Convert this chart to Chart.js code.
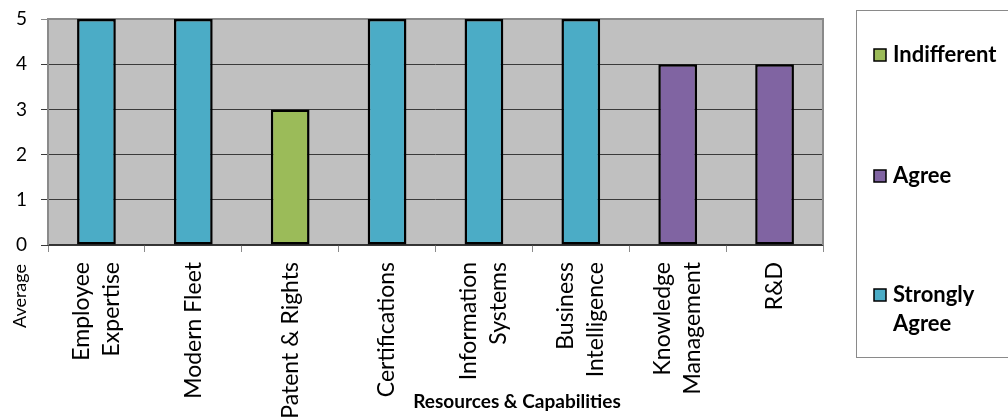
<!DOCTYPE html>
<html>
<head>
<meta charset="utf-8">
<script src="https://cdn.jsdelivr.net/npm/chart.js@4/dist/chart.umd.min.js"></script>
<style>
  html, body { margin: 0; padding: 0; background: #fff; }
  #wrap { width: 1008px; height: 417px; }
</style>
</head>
<body>
<div id="wrap"><canvas id="chart" width="1008" height="417"></canvas></div>
<script>
const categories = [
  ["Employee", "Expertise"],
  "Modern Fleet",
  "Patent & Rights",
  "Certifications",
  ["Information", "Systems"],
  ["Business", "Intelligence"],
  ["Knowledge", "Management"],
  "R&D",
];
const averages = [5, 5, 3, 5, 5, 5, 4, 4];
const responses = [
  "Strongly Agree", "Strongly Agree", "Indifferent", "Strongly Agree",
  "Strongly Agree", "Strongly Agree", "Agree", "Agree",
];
const levels = ["Indifferent", "Agree", "Strongly Agree"];
const levelColors = ["#9bbb59", "#8064a2", "#4bacc6"];
const yTicks = [0, 1, 2, 3, 4, 5];

const FONT = "Lato, 'Open Sans', sans-serif";

// one dataset per response level, null where the category has another level
const datasets = levels.map((lvl, k) => ({
  label: lvl,
  data: averages.map((v, i) => (responses[i] === lvl ? v : null)),
  backgroundColor: levelColors[k],
  borderColor: "#000",
  borderWidth: 2.5,
  borderSkipped: false,
  grouped: false,
  categoryPercentage: 1,
  barPercentage: 0.4,
}));

const plotDecor = {
  id: "plotDecor",
  beforeDraw(chart) {
    const { ctx, chartArea: a } = chart;
    ctx.save();
    ctx.fillStyle = "#c0c0c0";
    ctx.fillRect(a.left, a.top, a.right - a.left, a.bottom - a.top);
    ctx.restore();
  },
  beforeDatasetsDraw(chart) {
    const { ctx, chartArea: a } = chart;
    ctx.save();
    ctx.strokeStyle = "#8a8a8a";
    ctx.lineWidth = 2;
    ctx.beginPath();
    ctx.moveTo(a.left, a.bottom);
    ctx.lineTo(a.left, a.top);
    ctx.lineTo(a.right, a.top);
    ctx.lineTo(a.right, a.bottom);
    ctx.stroke();
    ctx.restore();
  },
  afterDraw(chart) {
    const { ctx, chartArea: a } = chart;
    const x = chart.scales.x;
    ctx.save();
    ctx.fillStyle = "#000";

    // category labels, rotated, lines centred on the category
    ctx.font = "23px " + FONT;
    ctx.textAlign = "right";
    ctx.textBaseline = "middle";
    const lh = 30;
    categories.forEach((lab, i) => {
      const lines = Array.isArray(lab) ? lab : [lab];
      const cx = x.getPixelForValue(i);
      lines.forEach((t, j) => {
        const px = cx + (j - (lines.length - 1) / 2) * lh;
        ctx.save();
        ctx.translate(px, a.bottom + 17);
        ctx.rotate(-Math.PI / 2);
        ctx.fillText(t, 0, 0);
        ctx.restore();
      });
    });

    // axis titles
    ctx.font = "bold 19px " + FONT;
    ctx.textAlign = "center";
    ctx.fillText("Resources & Capabilities", 517, 402);

    ctx.font = "18px " + FONT;
    ctx.save();
    ctx.translate(20, 296);
    ctx.rotate(-Math.PI / 2);
    ctx.fillText("Average", 0, 0);
    ctx.restore();

    // legend box
    ctx.strokeStyle = "#8a8a8a";
    ctx.lineWidth = 1;
    ctx.strokeRect(856.5, 10.5, 160, 347);
    ctx.font = "bold 22px " + FONT;
    ctx.textAlign = "left";
    const itemY = [55, 176, 295];
    chart.data.datasets.forEach((ds, k) => {
      const y = itemY[k];
      ctx.fillStyle = ds.backgroundColor;
      ctx.fillRect(874, y - 6, 12, 12);
      ctx.strokeStyle = "#000";
      ctx.lineWidth = 1.5;
      ctx.strokeRect(874, y - 6, 12, 12);
      ctx.fillStyle = "#000";
      // wrap words that do not fit in the box
      const words = ds.label.split(" ");
      let line = "";
      let ly = y;
      words.forEach((w) => {
        const test = line ? line + " " + w : w;
        if (line && ctx.measureText(test).width > 112) {
          ctx.fillText(line, 893, ly);
          line = w;
          ly += 29;
        } else {
          line = test;
        }
      });
      ctx.fillText(line, 893, ly);
    });
    ctx.restore();
  },
};

new Chart(document.getElementById("chart"), {
  type: "bar",
  data: { labels: categories, datasets: datasets },
  options: {
    responsive: false,
    animation: false,
    layout: { padding: { top: 19, right: 185, left: 0, bottom: 0 } },
    plugins: {
      legend: { display: false },
      tooltip: { enabled: false },
    },
    scales: {
      y: {
        min: 0,
        max: 5,
        afterBuildTicks: (scale) => {
          scale.ticks = yTicks.map((v) => ({ value: v }));
        },
        afterFit: (scale) => {
          scale.width = 48;
          scale.paddingTop = 0;
          scale.paddingBottom = 0;
        },
        ticks: {
          color: "#000",
          font: { family: FONT, size: 19 },
          padding: 14,
        },
        grid: {
          color: (c) => (c.tick && c.tick.value === 5 ? "#8a8a8a" : "#3a3a3a"),
          lineWidth: 1,
          tickLength: 7,
        },
        border: { display: false },
      },
      x: {
        afterFit: (scale) => {
          scale.height = 172;
          scale.paddingLeft = 0;
          scale.paddingRight = 0;
        },
        ticks: { display: false },
        grid: {
          offset: true,
          drawOnChartArea: false,
          drawTicks: true,
          tickLength: 7,
          color: "#8a8a8a",
        },
        border: { display: true, color: "#333", width: 1.5 },
      },
    },
  },
  plugins: [plotDecor],
});
</script>
</body>
</html>
